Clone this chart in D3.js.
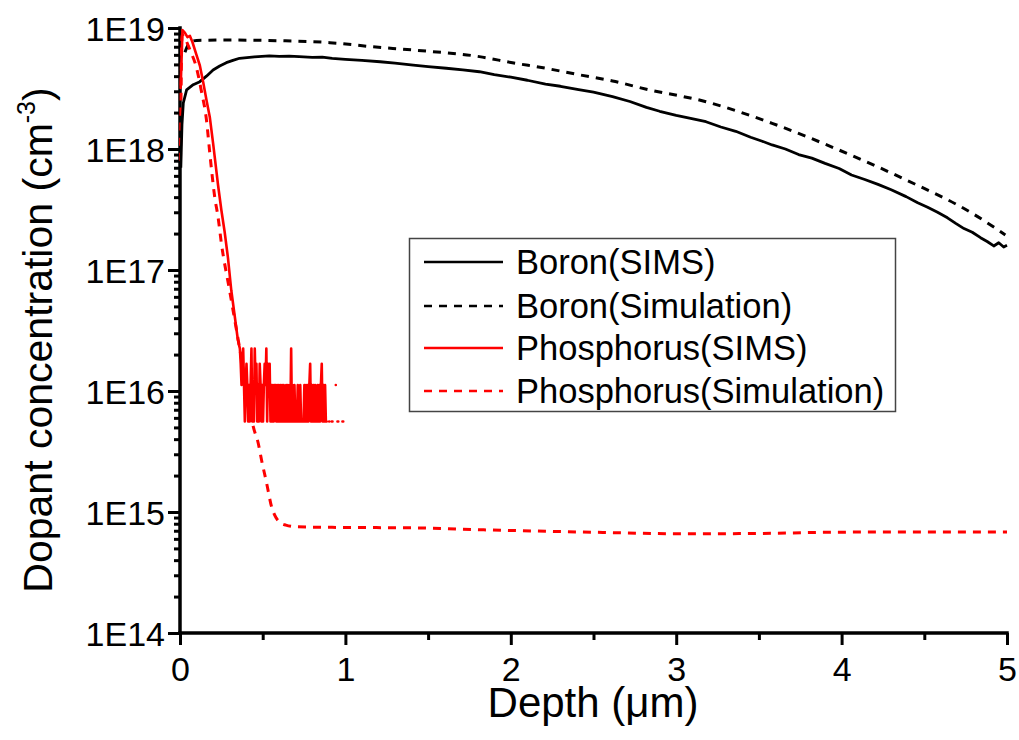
<!DOCTYPE html>
<html><head><meta charset="utf-8">
<script src="https://cdn.jsdelivr.net/npm/d3@7"></script>
<style>
body{margin:0;background:#fff}
svg{display:block}
text{font-family:"Liberation Sans",Arial,sans-serif;fill:#000}
</style>
</head><body>
<svg id="c" width="1019" height="740"></svg>
<script>
// ---------- data (depth in µm, concentration in cm^-3) ----------
const boronSims = [
  [0.005,7.0e17],[0.012,1.6e18],[0.02,2.4e18],[0.04,3.08e18],[0.08,3.4e18],[0.12,3.6e18],
  [0.16,4.0e18],[0.2,4.5e18],[0.24,4.85e18],[0.28,5.17e18],[0.32,5.4e18],[0.36,5.62e18],
  [0.45,5.78e18],[0.54,5.88e18],[0.6,5.82e18],[0.66,5.86e18],[0.72,5.8e18],[0.8,5.72e18],
  [0.86,5.75e18],[0.92,5.6e18],[1.0,5.5e18],[1.1,5.4e18],[1.21,5.26e18],[1.3,5.12e18],
  [1.41,4.94e18],[1.5,4.8e18],[1.61,4.65e18],[1.71,4.5e18],[1.81,4.35e18],[1.9,4.12e18],
  [2.0,3.92e18],[2.1,3.7e18],[2.21,3.44e18],[2.3,3.3e18],[2.41,3.1e18],[2.5,2.95e18],
  [2.615,2.71e18],[2.72,2.47e18],[2.82,2.21e18],[2.9,2.05e18],[3.0,1.9e18],[3.08,1.8e18],
  [3.18,1.68e18],[3.27,1.52e18],[3.36,1.4e18],[3.45,1.25e18],[3.52,1.16e18],[3.58,1.08e18],
  [3.66,1.0e18],[3.74,9.0e17],[3.82,8.4e17],[3.9,7.6e17],[3.985,6.9e17],[4.06,6.1e17],
  [4.14,5.6e17],[4.22,5.1e17],[4.3,4.6e17],[4.39,4.04e17],[4.46,3.6e17],[4.52,3.3e17],
  [4.58,3.0e17],[4.64,2.7e17],[4.69,2.43e17],[4.74,2.2e17],[4.79,2.05e17],[4.84,1.85e17],
  [4.88,1.72e17],[4.92,1.58e17],[4.95,1.68e17],[4.98,1.55e17],[5.0,1.6e17]
];
const boronSim = [
  [0.03,6.3e18],[0.06,7.6e18],[0.1,7.9e18],[0.3,7.95e18],[0.604,7.85e18],[0.906,7.57e18],
  [1.165,7.0e18],[1.407,6.58e18],[1.81,5.8e18],[2.01,5.16e18],[2.21,4.65e18],[2.42,4.09e18],
  [2.615,3.65e18],[2.82,3.12e18],[3.18,2.46e18],[3.58,1.63e18],[3.985,9.8e17],[4.39,5.55e17],
  [4.79,2.94e17],[4.99,1.95e17]
];
// Phosphorus SIMS: profile head, then counts-limited noise floor
const phosSimsHead = [
  [0.004,3.2e18],[0.015,9.6e18],[0.03,9.1e18],[0.045,8.4e18],[0.06,8.6e18],[0.075,7.66e18],
  [0.1,5.98e18],[0.12,4.9e18],[0.14,3.58e18],[0.16,2.54e18],[0.18,1.84e18],[0.2,1.12e18],
  [0.23,5.04e17],[0.25,3.13e17],[0.27,2.06e17],[0.29,1.26e17],[0.31,6.8e16],[0.33,4.25e16],
  [0.35,2.64e16]
];
const phosNoiseStart = 0.362, phosNoiseStep = 0.005, phosCountUnit = 5.6e15;
const phosNoiseCounts = [
  4,3,2,3,4,2,1,2,3,2,  1,2,1,2,4,1,2,1,4,2,  3,1,2,1,3,2,1,2,1,2,
  3,2,4,1,3,2,3,1,2,1,  2,1,2,2,1,2,1,2,1,2,  1,2,1,2,1,1,2,1,2,1,
  2,1,4,1,2,1,2,1,1,1,  2,1,1,2,1,1,1,1,2,1,  2,1,2,1,2,3,1,2,1,2,
  1,2,1,1,2,1,2,1,2,3,  1,2,1,2,1,1,0,0,1,0,  0,1,1,0,0,0,2,0,1,1,
  0,0,0,0,1,1
];
const phosSim = [
  [0.003,8.0e17],[0.012,8.8e18],[0.03,8.2e18],[0.06,6.6e18],[0.1,4.67e18],[0.13,2.98e18],
  [0.16,1.74e18],[0.18,9.3e17],[0.21,4.0e17],[0.23,2.74e17],[0.25,1.67e17],[0.3,6.75e16],
  [0.35,2.74e16],[0.4,1.1e16],[0.443,5.07e15],[0.473,3.7e15],[0.493,2.69e15],[0.523,1.75e15],
  [0.554,1.1e15],[0.58,9.0e14],[0.61,8.1e14],[0.64,7.8e14],[0.7,7.55e14],[0.8,7.5e14],
  [1.0,7.45e14],[1.4,7.4e14],[1.7,7.2e14],[2.07,7.0e14],[2.5,6.8e14],[3.06,6.6e14],
  [3.5,6.65e14],[3.94,6.8e14],[4.5,6.85e14],[5.0,6.85e14]
];
const xTicks = [0,1,2,3,4,5];
const xMinor = [0.5,1.5,2.5,3.5,4.5];
const yTicks = [1e14,1e15,1e16,1e17,1e18,1e19];
const legendLabels = ["Boron(SIMS)","Boron(Simulation)","Phosphorus(SIMS)","Phosphorus(Simulation)"];

// ---------- build ----------
const phosSims = phosSimsHead.concat(
  phosNoiseCounts.map((c,i)=>[phosNoiseStart + i*phosNoiseStep, c*phosCountUnit]));

const svg = d3.select("#c");
const x = d3.scaleLinear().domain([0,5]).range([180,1007]);
const y = d3.scaleLog().domain([1e14,1e19]).range([633,28]);

const yMinor = [];
for (let e=14;e<19;e++) for (let m=2;m<10;m++) yMinor.push(m*Math.pow(10,e));

// x axis
const gx = svg.append("g").attr("transform","translate(0,633)");
gx.call(d3.axisBottom(x).tickValues(xMinor).tickSize(7).tickSizeOuter(0).tickFormat(""));
const gx2 = svg.append("g").attr("transform","translate(0,633)");
gx2.call(d3.axisBottom(x).tickValues(xTicks).tickSize(12).tickSizeOuter(0).tickFormat(d3.format("d")));
// y axis
const gy = svg.append("g").attr("transform","translate(180,0)");
gy.call(d3.axisLeft(y).tickValues(yMinor).tickSize(6).tickSizeOuter(0).tickFormat(""));
const gy2 = svg.append("g").attr("transform","translate(180,0)");
gy2.call(d3.axisLeft(y).tickValues(yTicks).tickSize(12).tickSizeOuter(0).tickPadding(3)
  .tickFormat(d => "1E" + Math.round(Math.log10(d))));

svg.selectAll(".domain").remove();
svg.selectAll(".tick line").style("stroke","#000").style("stroke-width","3px");
gx2.selectAll(".tick text").attr("font-size",34).attr("font-family","Liberation Sans, Arial")
  .attr("y",48).attr("dy",null).style("fill","#000");
gy2.selectAll(".tick text").attr("font-size",34).attr("font-family","Liberation Sans, Arial")
  .attr("dy","0.36em").style("fill","#000");

// axis lines (drawn from scale ranges)
svg.append("line").attr("x1",x.range()[0]).attr("x2",x.range()[1]).attr("y1",y.range()[0]).attr("y2",y.range()[0])
  .style("stroke","#000").style("stroke-width","3.5px").style("stroke-linecap","square");
svg.append("line").attr("x1",x.range()[0]).attr("x2",x.range()[0]).attr("y1",y.range()[0]).attr("y2",y.range()[1])
  .style("stroke","#000").style("stroke-width","3.5px").style("stroke-linecap","square");

// axis titles
svg.append("text").attr("x",593).attr("y",717).attr("text-anchor","middle")
  .attr("font-size",42).text("Depth (\u03bcm)");
const yl = svg.append("text").attr("transform","translate(52,340) rotate(-90)")
  .attr("text-anchor","middle").attr("font-size",41);
yl.append("tspan").text("Dopant concentration (cm");
yl.append("tspan").attr("font-size",25).attr("dy",-17).text("-3");
yl.append("tspan").attr("dy",17).text(")");

// lines
const line = d3.line().x(d=>x(d[0])).y(d=>y(d[1]));
const smooth = d3.line().x(d=>x(d[0])).y(d=>y(d[1])).curve(d3.curveMonotoneX);
const plot = svg.append("g");
plot.append("path").datum(boronSim).attr("d",smooth).attr("fill","none")
  .attr("stroke","#000").attr("stroke-width",3).attr("stroke-dasharray","8,7");
plot.append("path").datum(phosSim).attr("d",smooth).attr("fill","none")
  .attr("stroke","#ff0000").attr("stroke-width",3).attr("stroke-dasharray","8,7");
plot.append("path").datum(boronSims).attr("d",line).attr("fill","none")
  .attr("stroke","#000").attr("stroke-width",2.8).attr("stroke-linejoin","round");
plot.append("path").datum(phosSims)
  .attr("d",d3.line().defined(d=>d[1]>0).x(d=>x(d[0])).y(d=>y(d[1])))
  .attr("fill","none").attr("stroke","#ff0000").attr("stroke-width",2.6)
  .attr("stroke-linejoin","round").attr("stroke-linecap","round");

// legend
const legStyles = [
  {c:"#000",dash:null},{c:"#000",dash:"8,7"},{c:"#ff0000",dash:null},{c:"#ff0000",dash:"8,7"}
];
const lg = svg.append("g");
lg.append("rect").attr("x",409.5).attr("y",238.5).attr("width",486).attr("height",173)
  .attr("fill","#fff").attr("stroke","#444").attr("stroke-width",1.5);
const rowY = [262,306,348,391];
legendLabels.forEach((t,i)=>{
  lg.append("line").attr("x1",424).attr("x2",503).attr("y1",rowY[i]).attr("y2",rowY[i])
    .attr("stroke",legStyles[i].c).attr("stroke-width",2.6)
    .attr("stroke-dasharray",legStyles[i].dash);
  lg.append("text").attr("x",516).attr("y",rowY[i]+12).attr("font-size",34.5).text(t);
});
</script>
</body></html>
